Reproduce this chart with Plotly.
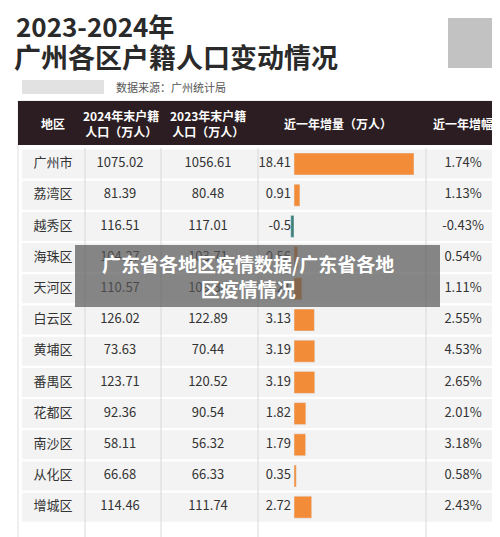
import plotly.graph_objects as go

districts = ["广州市", "荔湾区", "越秀区", "海珠区", "天河区", "白云区", "黄埔区", "番禺区", "花都区", "南沙区", "从化区", "增城区"]
pop_2024 = ["1075.02", "81.39", "116.51", "104.27", "110.57", "126.02", "73.63", "123.71", "92.36", "58.11", "66.68", "114.46"]
pop_2023 = ["1056.61", "80.48", "117.01", "103.71", "109.36", "122.89", "70.44", "120.52", "90.54", "56.32", "66.33", "111.74"]
increase = [18.41, 0.91, -0.5, 0.56, 1.21, 3.13, 3.19, 3.19, 1.82, 1.79, 0.35, 2.72]
growth = ["1.74%", "1.13%", "-0.43%", "0.54%", "1.11%", "2.55%", "4.53%", "2.65%", "2.01%", "3.18%", "0.58%", "2.43%"]
headers = ["地区", "2024年末户籍<br>人口（万人）", "2023年末户籍<br>人口（万人）", "近一年增量（万人）", "近一年增幅"]

FONT = "Noto Sans CJK SC"
row_y = [156 + 31.2 * i for i in range(len(districts))]
bar_base = 286
bar_scale = 120 / 18.41

fig = go.Figure()

# table background rows
shapes = [dict(type="rect", x0=10, x1=490, y0=93, y1=545, fillcolor="#ffffff",
               line=dict(color="#e0e0e0", width=1), layer="below"),
          dict(type="rect", x0=10, x1=490, y0=93, y1=137, fillcolor="#2b1d21",
               line=dict(width=0), layer="below")]
for y in row_y:
    shapes.append(dict(type="rect", x0=14, x1=486, y0=y - 14.5, y1=y + 14.5,
                       fillcolor="#f3f3f3", line=dict(width=0), layer="below"))
for x in [77, 153, 250, 418]:
    shapes.append(dict(type="line", x0=x, x1=x, y0=140, y1=545,
                       line=dict(color="#d8d8d8", width=1), layer="below"))
# blurred logo / qr
shapes.append(dict(type="rect", x0=440, x1=484, y0=10, y1=60, fillcolor="#9a9a9a",
                   opacity=0.6, line=dict(width=0), layer="below"))
shapes.append(dict(type="rect", x0=14, x1=96, y0=72, y1=86, fillcolor="#cfcfcf",
                   opacity=0.6, line=dict(width=0), layer="below"))

fig.add_trace(go.Bar(
    y=row_y, x=[v * bar_scale for v in increase], base=bar_base, orientation="h",
    width=22, marker_color=["#f28c38" if v >= 0 else "#3f7f78" for v in increase],
    hoverinfo="skip"))

cols = [(45, districts), (112, pop_2024), (200, pop_2023), (455, growth)]
for x, vals in cols:
    fig.add_trace(go.Scatter(x=[x] * len(vals), y=row_y, text=vals, mode="text",
                             textfont=dict(size=13, color="#333333", family=FONT)))
fig.add_trace(go.Scatter(x=[bar_base - 3] * len(increase), y=row_y,
                         text=[f"{v:g}" for v in increase],
                         mode="text", textposition="middle left",
                         textfont=dict(size=13, color="#333333", family=FONT)))

annotations = [
    dict(x=6, y=17, text="<b>2023-2024年</b>", showarrow=False, xanchor="left",
         font=dict(size=26, color="#2a2a2a", family=FONT)),
    dict(x=4, y=48, text="<b>广州各区户籍人口变动情况</b>", showarrow=False, xanchor="left",
         font=dict(size=27, color="#2a2a2a", family=FONT)),
    dict(x=106, y=79, text="数据来源：广州统计局", showarrow=False, xanchor="left",
         font=dict(size=11, color="#555555", family=FONT)),
]
for x, h in zip([45, 113, 200, 330, 455], headers):
    annotations.append(dict(x=x, y=115, text=f"<b>{h}</b>", showarrow=False,
                            font=dict(size=12, color="#ffffff", family=FONT)))

# watermark overlay
shapes.append(dict(type="rect", x0=67, x1=432, y0=237, y1=299, fillcolor="#555555",
                   opacity=0.7, line=dict(width=0), layer="above"))
annotations.append(dict(x=240, y=268, text="<b>广东省各地区疫情数据/广东省各地<br>区疫情情况</b>",
                        showarrow=False, font=dict(size=19, color="#ffffff", family=FONT)))

fig.update_layout(
    width=500, height=537, margin=dict(l=0, r=0, t=0, b=0),
    paper_bgcolor="#ffffff", plot_bgcolor="#ffffff", showlegend=False,
    xaxis=dict(range=[0, 500], visible=False, fixedrange=True),
    yaxis=dict(range=[537, 0], visible=False, fixedrange=True),
    shapes=shapes, annotations=annotations,
)

fig.write_html("out.html")
